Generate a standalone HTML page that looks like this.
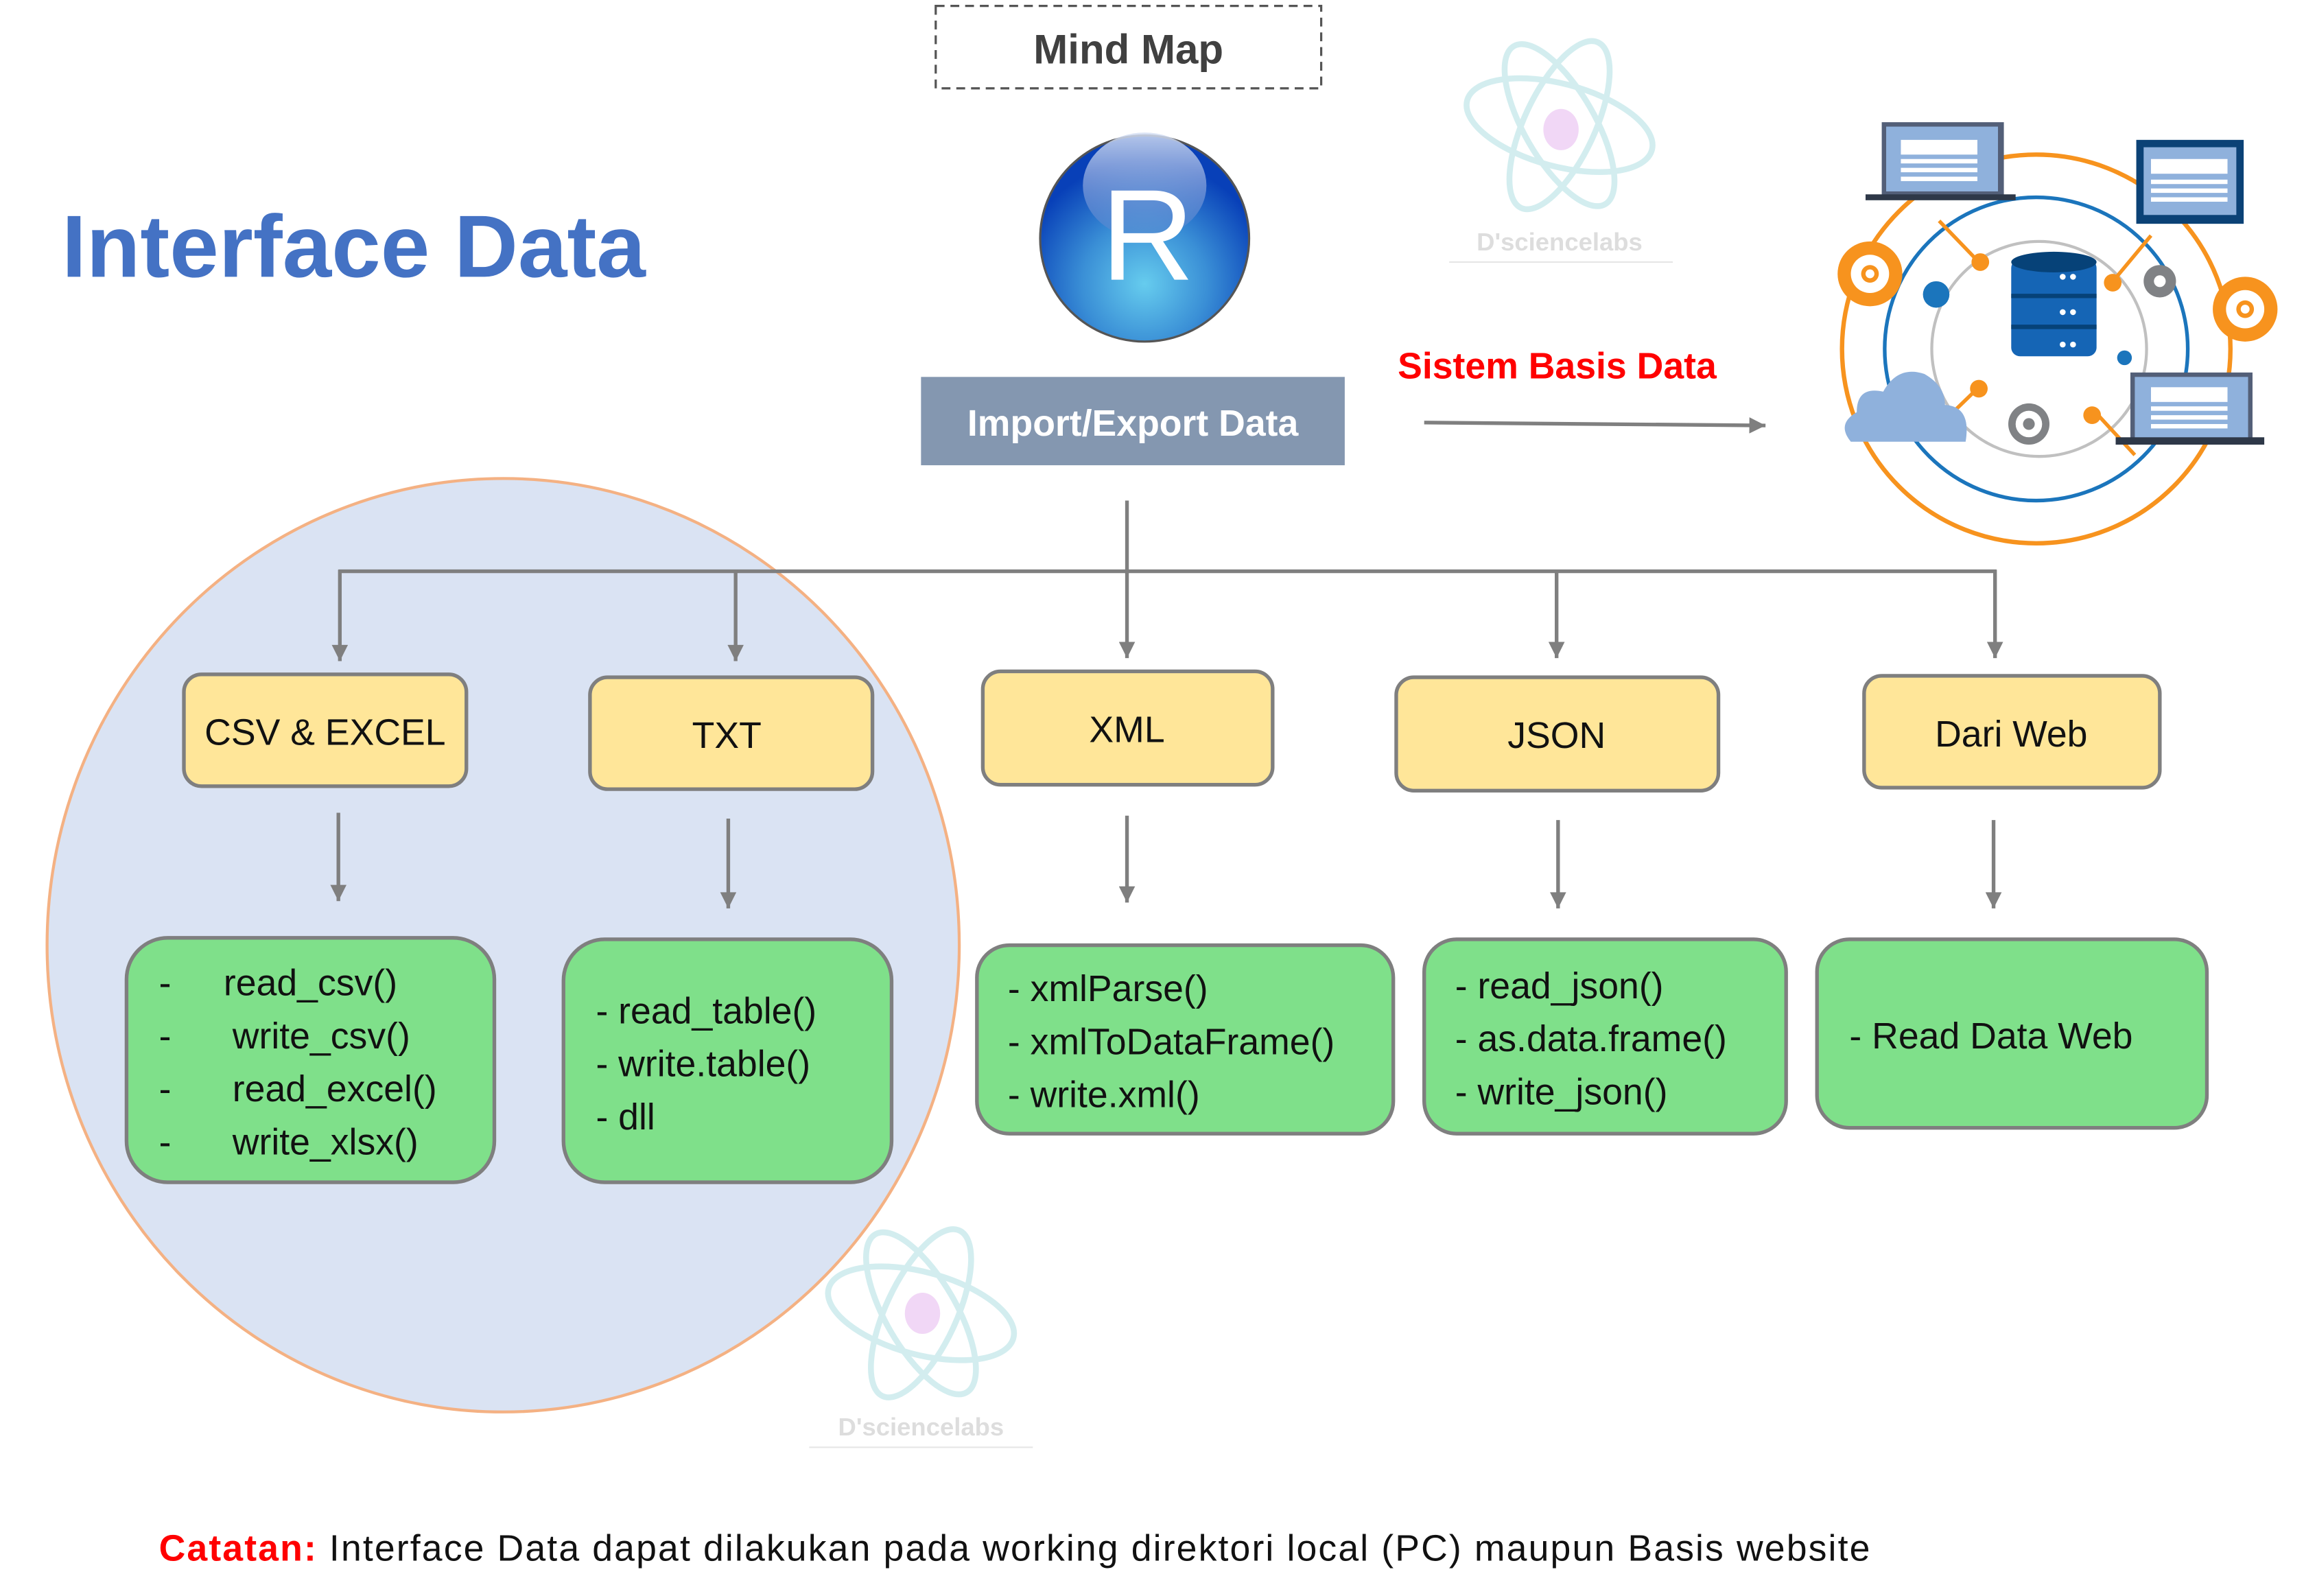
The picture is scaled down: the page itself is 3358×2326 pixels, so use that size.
<!DOCTYPE html>
<html><head><meta charset="utf-8"><style>
html,body{margin:0;padding:0;background:#fff;}
svg{display:block;}
text{font-family:"Liberation Sans",sans-serif;}
</style></head><body>
<svg width="3358" height="2326" viewBox="0 0 1566 1084" preserveAspectRatio="none" xmlns="http://www.w3.org/2000/svg">
<defs>
<radialGradient id="rg" cx="0.5" cy="0.72" r="0.6">
<stop offset="0" stop-color="#66ccee"/><stop offset="0.5" stop-color="#3a8fd6"/><stop offset="1" stop-color="#0840b8"/>
</radialGradient>
<linearGradient id="hl" x1="0" y1="0" x2="0" y2="1"><stop offset="0" stop-color="#d6e0f4"/><stop offset="1" stop-color="#5a7fcc" stop-opacity="0.5"/></linearGradient>
<marker id="ah" viewBox="0 0 10 10" refX="10" refY="5" markerWidth="12" markerHeight="11" orient="auto" markerUnits="userSpaceOnUse"><path d="M0,0 L10,5 L0,10 z" fill="#7f7f7f"/></marker>
</defs>

<ellipse cx="342" cy="642" rx="310" ry="317" fill="#dae3f3" stroke="#f4b183" stroke-width="2"/>

<text x="42" y="188" font-size="60" font-weight="bold" fill="#4472c4">Interface Data</text>

<rect x="636" y="4" width="262" height="56" fill="none" stroke="#555" stroke-width="1.5" stroke-dasharray="6,4"/>
<text x="767" y="43" font-size="28" font-weight="bold" fill="#404040" text-anchor="middle">Mind Map</text>

<ellipse cx="778" cy="162" rx="71" ry="70" fill="url(#rg)" stroke="#555" stroke-width="1.5"/>
<ellipse cx="778" cy="126" rx="42" ry="36" fill="url(#hl)" opacity="0.85"/>
<text x="780" y="190" font-size="88" fill="#fff" text-anchor="middle" font-family="Liberation Serif,serif">R</text>

<rect x="626" y="256" width="288" height="60" fill="#8497b0"/>
<text x="770" y="296" font-size="25" font-weight="bold" fill="#fff" text-anchor="middle">Import/Export Data</text>

<text x="950" y="257" font-size="25" font-weight="bold" fill="#ff0000">Sistem Basis Data</text>
<line x1="968" y1="287" x2="1200" y2="289" stroke="#7f7f7f" stroke-width="2.5" marker-end="url(#ah)"/>

<g opacity="0.5" fill="none" stroke="#a8dde0" stroke-width="4">
<ellipse cx="1060" cy="85" rx="65" ry="28" transform="rotate(15 1060 85)"/>
<ellipse cx="1060" cy="85" rx="62" ry="24" transform="rotate(-65 1060 85)"/>
<ellipse cx="1060" cy="85" rx="62" ry="24" transform="rotate(60 1060 85)"/>
</g>
<ellipse cx="1061" cy="88" rx="12" ry="14" fill="#eecdf4" opacity="0.8"/>
<text x="1060" y="170" font-size="17" font-weight="bold" fill="#ddd" text-anchor="middle" font-family="Liberation Serif,serif">D'sciencelabs</text>
<line x1="985" y1="178" x2="1137" y2="178" stroke="#e6e6e6"/>
<g opacity="0.5" fill="none" stroke="#a8dde0" stroke-width="4">
<ellipse cx="626" cy="892" rx="65" ry="28" transform="rotate(15 626 892)"/>
<ellipse cx="626" cy="892" rx="62" ry="24" transform="rotate(-65 626 892)"/>
<ellipse cx="626" cy="892" rx="62" ry="24" transform="rotate(60 626 892)"/>
</g>
<ellipse cx="627" cy="892" rx="12" ry="14" fill="#eecdf4" opacity="0.8"/>
<text x="626" y="975" font-size="17" font-weight="bold" fill="#ddd" text-anchor="middle" font-family="Liberation Serif,serif">D'sciencelabs</text>
<line x1="550" y1="983" x2="702" y2="983" stroke="#e6e6e6"/>

<g>
<circle cx="1384" cy="237" r="132" fill="none" stroke="#f7931e" stroke-width="3"/>
<circle cx="1384" cy="237" r="103" fill="none" stroke="#1b75bc" stroke-width="2.5"/>
<circle cx="1386" cy="237" r="73" fill="none" stroke="#c0c0c0" stroke-width="2"/>
<g stroke="#f7931e" stroke-width="2.5"><line x1="1318" y1="150" x2="1345" y2="178"/><line x1="1462" y1="160" x2="1432" y2="196"/><line x1="1315" y1="292" x2="1345" y2="263"/><line x1="1427" y1="283" x2="1451" y2="309"/></g>
<g fill="#f7931e"><circle cx="1346" cy="178" r="6"/><circle cx="1436" cy="192" r="6"/><circle cx="1345" cy="264" r="6"/><circle cx="1422" cy="282" r="6"/></g>
<circle cx="1316" cy="200" r="9" fill="#1b75bc"/><circle cx="1444" cy="243" r="5" fill="#1b75bc"/>
<rect x="1367" y="176" width="58" height="66" rx="6" fill="#1565b5"/>
<ellipse cx="1396" cy="178" rx="29" ry="7" fill="#064278"/>
<line x1="1367" y1="201" x2="1425" y2="201" stroke="#064278" stroke-width="3"/><line x1="1367" y1="222" x2="1425" y2="222" stroke="#064278" stroke-width="3"/>
<g fill="#fff"><circle cx="1402" cy="188" r="2"/><circle cx="1409" cy="188" r="2"/><circle cx="1402" cy="212" r="2"/><circle cx="1409" cy="212" r="2"/><circle cx="1402" cy="234" r="2"/><circle cx="1409" cy="234" r="2"/></g>
<circle cx="1271" cy="186" r="22" fill="#f7931e"/><circle cx="1271" cy="186" r="13" fill="#fff"/><circle cx="1271" cy="186" r="6" fill="#f7931e"/><circle cx="1271" cy="186" r="3" fill="#fff"/>
<circle cx="1526" cy="210" r="22" fill="#f7931e"/><circle cx="1526" cy="210" r="13" fill="#fff"/><circle cx="1526" cy="210" r="6" fill="#f7931e"/><circle cx="1526" cy="210" r="3" fill="#fff"/>
<circle cx="1468" cy="191" r="11" fill="#808285"/><circle cx="1468" cy="191" r="4" fill="#fff"/>
<circle cx="1379" cy="288" r="14" fill="#808285"/><circle cx="1379" cy="288" r="9" fill="#fff"/><circle cx="1379" cy="288" r="4" fill="#808285"/>
<path d="M1258,300 Q1248,288 1262,280 Q1262,262 1280,266 Q1290,248 1308,254 Q1322,262 1322,275 Q1340,276 1336,300 Z" fill="#8fb1dc"/>
<rect x="1279" y="83" width="83" height="50" fill="#535f78"/><rect x="1282" y="86" width="76" height="44" fill="#8fb1dc"/><rect x="1268" y="132" width="102" height="4" fill="#2e3848"/>
<rect x="1292" y="95" width="52" height="10" fill="#fff"/><rect x="1292" y="108" width="52" height="3" fill="#fff"/><rect x="1292" y="114" width="52" height="3" fill="#fff"/><rect x="1292" y="120" width="52" height="3" fill="#fff"/>
<rect x="1452" y="95" width="73" height="57" fill="#0b4276"/><rect x="1457" y="100" width="63" height="46" fill="#8fb1dc"/>
<rect x="1462" y="108" width="52" height="10" fill="#fff"/><rect x="1462" y="122" width="52" height="3" fill="#fff"/><rect x="1462" y="128" width="52" height="3" fill="#fff"/><rect x="1462" y="134" width="52" height="3" fill="#fff"/>
<rect x="1448" y="253" width="83" height="48" fill="#535f78"/><rect x="1451" y="256" width="77" height="42" fill="#8fb1dc"/><rect x="1438" y="297" width="101" height="5" fill="#2e3848"/>
<rect x="1462" y="263" width="52" height="10" fill="#fff"/><rect x="1462" y="276" width="52" height="3" fill="#fff"/><rect x="1462" y="282" width="52" height="3" fill="#fff"/><rect x="1462" y="288" width="52" height="3" fill="#fff"/>
</g>

<g stroke="#7f7f7f" stroke-width="2.5" fill="none">
<line x1="766" y1="340" x2="766" y2="447" marker-end="url(#ah)"/>
<line x1="230" y1="388" x2="1357" y2="388"/>
<line x1="231" y1="387" x2="231" y2="449" marker-end="url(#ah)"/>
<line x1="500" y1="387" x2="500" y2="449" marker-end="url(#ah)"/>
<line x1="1058" y1="387" x2="1058" y2="447" marker-end="url(#ah)"/>
<line x1="1356" y1="387" x2="1356" y2="447" marker-end="url(#ah)"/>
<line x1="230" y1="552" x2="230" y2="612" marker-end="url(#ah)"/>
<line x1="495" y1="556" x2="495" y2="617" marker-end="url(#ah)"/>
<line x1="766" y1="554" x2="766" y2="613" marker-end="url(#ah)"/>
<line x1="1059" y1="557" x2="1059" y2="617" marker-end="url(#ah)"/>
<line x1="1355" y1="557" x2="1355" y2="617" marker-end="url(#ah)"/>
</g>

<g fill="#ffe699" stroke="#7f7f7f" stroke-width="2.5">
<rect x="125" y="458" width="192" height="76" rx="12"/>
<rect x="401" y="460" width="192" height="76" rx="12"/>
<rect x="668" y="456" width="197" height="77" rx="12"/>
<rect x="949" y="460" width="219" height="77" rx="12"/>
<rect x="1267" y="459" width="201" height="76" rx="12"/>
</g>
<g font-size="25" fill="#111" text-anchor="middle">
<text x="221" y="506">CSV &amp; EXCEL</text>
<text x="494" y="508">TXT</text>
<text x="766" y="504">XML</text>
<text x="1058" y="508">JSON</text>
<text x="1367" y="507">Dari Web</text>
</g>

<g fill="#7fe08a" stroke="#7f7f7f" stroke-width="2.5">
<rect x="86" y="637" width="250" height="166" rx="28"/>
<rect x="383" y="638" width="223" height="165" rx="28"/>
<rect x="664" y="642" width="283" height="128" rx="22"/>
<rect x="968" y="638" width="246" height="132" rx="22"/>
<rect x="1235" y="638" width="265" height="128" rx="22"/>
</g>
<g font-size="25" fill="#111">
<text x="108" y="676">-</text><text x="152" y="676">read_csv()</text>
<text x="108" y="712">-</text><text x="158" y="712">write_csv()</text>
<text x="108" y="748">-</text><text x="158" y="748">read_excel()</text>
<text x="108" y="784">-</text><text x="158" y="784">write_xlsx()</text>
<text x="405" y="695">- read_table()</text>
<text x="405" y="731">- write.table()</text>
<text x="405" y="767">- dll</text>
<text x="685" y="680">- xmlParse()</text>
<text x="685" y="716">- xmlToDataFrame()</text>
<text x="685" y="752">- write.xml()</text>
<text x="989" y="678">- read_json()</text>
<text x="989" y="714">- as.data.frame()</text>
<text x="989" y="750">- write_json()</text>
<text x="1257" y="712">- Read Data Web</text>
</g>

<text x="108" y="1060" font-size="25" fill="#111" textLength="1163" lengthAdjust="spacing"><tspan fill="#ff0000" font-weight="bold">Catatan:</tspan> Interface Data dapat dilakukan pada working direktori local (PC) maupun Basis website</text>
</svg>
</body></html>
